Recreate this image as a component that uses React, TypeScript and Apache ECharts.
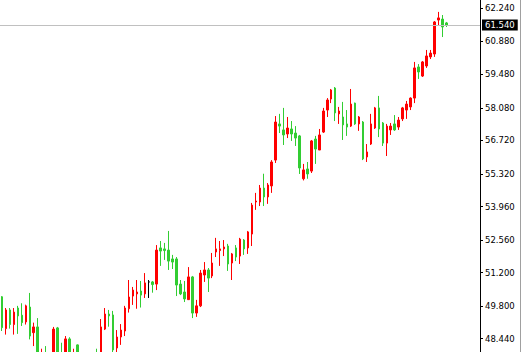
import React, { useEffect, useRef } from "react";
import * as echarts from "echarts";

// Candle OHLC values, oldest first (last candle is the current bar)
const opens = [
  50.19, 48.86, 49.64, 49.03, 49.72, 49.42, 49.14, 49.76, 48.69, 48.93,
  47.60, 47.85, 47.30, 47.60, 48.89, 47.70, 47.40, 48.43, 47.50, 48.18,
  47.50, 47.30, 47.50, 47.20, 47.70, 47.50, 48.84, 49.47, 49.43, 48.05,
  48.51, 48.76, 49.69, 50.22, 50.31, 50.43, 50.31, 50.81, 50.81, 50.72,
  52.23, 52.19, 52.14, 51.77, 51.77, 50.72, 50.39, 50.07, 51.02, 49.51,
  49.81, 51.10, 51.31, 51.06, 52.06, 52.12, 52.19, 52.31, 51.60, 52.23,
  51.89, 52.56, 52.23, 52.81, 54.15, 54.15, 54.73, 54.36, 54.82, 55.90,
  57.41, 57.16, 56.99, 57.20, 57.03, 56.91, 55.12, 55.53, 55.44, 56.78,
  56.32, 57.07, 57.99, 58.45, 58.91, 57.83, 57.70, 57.41, 57.32, 58.28,
  57.41, 57.49, 56.03, 56.57, 57.24, 58.08, 57.45, 56.61, 57.16, 57.41,
  57.28, 57.62, 57.99, 58.12, 58.49, 59.79, 59.41, 59.83, 60.21, 60.33,
  61.75, 61.79, 61.63,
];
const closes = [
  48.90, 49.64, 49.03, 49.55, 49.39, 49.11, 49.81, 48.55, 48.93, 47.60,
  47.85, 47.40, 47.60, 48.84, 47.70, 47.30, 48.43, 47.60, 47.80, 47.50,
  47.30, 47.50, 47.20, 47.60, 47.40, 48.93, 49.47, 49.39, 47.97, 48.51,
  48.80, 49.72, 50.18, 50.47, 50.39, 50.26, 50.77, 50.81, 50.70, 52.14,
  52.10, 52.12, 51.68, 51.64, 50.68, 50.31, 50.10, 51.02, 49.51, 49.81,
  51.18, 51.31, 50.97, 51.60, 52.19, 52.19, 52.27, 51.56, 51.98, 51.85,
  52.60, 52.19, 52.90, 54.02, 54.19, 54.73, 54.36, 54.86, 55.82, 57.49,
  57.32, 56.95, 57.24, 56.99, 56.82, 55.57, 55.49, 55.32, 56.70, 56.36,
  56.95, 57.95, 58.41, 58.83, 57.87, 57.95, 57.37, 57.28, 58.24, 57.41,
  57.70, 55.95, 56.24, 57.41, 58.08, 57.20, 56.61, 57.32, 57.32, 57.16,
  57.57, 58.08, 58.24, 58.49, 59.75, 59.58, 60.00, 60.25, 60.37, 61.67,
  61.84, 61.46, 61.54,
];
const lows = [
  48.76, 48.61, 48.86, 48.61, 48.64, 48.97, 49.03, 48.41, 48.13, 47.40,
  47.40, 47.20, 47.10, 47.50, 47.50, 47.10, 47.20, 47.40, 47.30, 47.30,
  47.10, 47.00, 47.00, 47.00, 47.20, 47.30, 48.80, 48.94, 47.80, 47.85,
  48.18, 48.55, 49.53, 49.85, 49.69, 49.74, 50.14, 50.14, 50.36, 50.47,
  51.48, 51.73, 51.31, 51.35, 50.22, 50.26, 49.97, 50.06, 49.30, 49.35,
  49.76, 50.81, 50.39, 50.97, 51.85, 51.48, 51.89, 51.27, 50.89, 51.68,
  51.56, 51.94, 51.98, 52.31, 53.82, 53.98, 53.98, 54.07, 54.53, 55.78,
  57.03, 56.53, 56.82, 56.70, 56.49, 55.32, 55.05, 55.12, 55.36, 55.74,
  56.32, 57.03, 57.70, 58.28, 57.53, 57.41, 56.74, 56.91, 57.28, 57.37,
  57.12, 55.90, 55.82, 56.53, 57.20, 56.86, 56.49, 56.07, 56.95, 57.12,
  57.16, 57.53, 57.62, 57.99, 58.28, 59.29, 59.37, 59.75, 60.12, 60.21,
  61.50, 61.04, 61.46,
];
const highs = [
  50.22, 49.72, 49.72, 49.72, 49.81, 49.92, 49.86, 50.35, 49.11, 49.30,
  48.02, 48.13, 47.75, 48.93, 48.93, 48.27, 48.55, 48.50, 48.02, 48.20,
  47.70, 47.70, 47.60, 47.75, 48.02, 49.26, 49.72, 49.64, 49.60, 48.80,
  49.05, 49.81, 50.89, 50.60, 50.89, 50.85, 51.18, 50.89, 50.85, 52.35,
  52.52, 52.44, 52.94, 51.94, 51.85, 50.89, 50.85, 51.43, 51.06, 50.06,
  51.31, 51.64, 51.39, 52.02, 52.65, 52.52, 52.56, 52.40, 52.02, 52.35,
  52.65, 52.60, 52.94, 54.11, 54.53, 54.86, 55.33, 54.94, 55.90, 57.74,
  57.83, 58.08, 57.70, 57.53, 57.32, 56.95, 55.74, 55.82, 56.74, 56.91,
  57.20, 58.08, 58.49, 58.87, 58.95, 58.12, 58.33, 57.99, 58.87, 58.30,
  57.74, 57.53, 56.57, 57.83, 58.12, 58.58, 57.49, 57.41, 57.45, 57.78,
  57.70, 58.12, 58.37, 58.52, 60.00, 59.91, 60.04, 60.50, 60.50, 61.71,
  62.09, 61.96, 61.67,
];

// Bar slots (including empty space at the right of the chart)
const slotCount = 121;
const categories = Array.from({ length: slotCount }, (_, i) => String(i + 1));

// Price scale tick labels
const tickValues = [62.24, 60.88, 59.48, 58.08, 56.72, 55.32, 53.96, 52.56, 51.2, 49.8, 48.44];
const yMin = 47.883;
const yMax = 62.587;
const currentPrice = 61.54;

const FONT = "DejaVu Sans";

export default function App() {
  const ref = useRef<HTMLDivElement>(null);

  useEffect(() => {
    if (!ref.current) return;
    const chart = echarts.init(ref.current, undefined, { renderer: "svg" });
    const data = opens.map((o, i) => [o, closes[i], lows[i], highs[i]]);
    chart.setOption({
      animation: false,
      backgroundColor: "#ffffff",
      grid: { left: -3, right: 43, top: 0, bottom: 0, containLabel: false },
      xAxis: {
        type: "category",
        data: categories,
        boundaryGap: true,
        axisLine: { show: false },
        axisTick: { show: false },
        axisLabel: { show: false },
        splitLine: { show: false },
      },
      yAxis: {
        type: "value",
        position: "right",
        min: yMin,
        max: yMax,
        splitLine: { show: false },
        axisLine: { show: true, onZero: false, lineStyle: { color: "#000000", width: 1 } },
        axisTick: {
          show: true,
          length: 3,
          lineStyle: { color: "#000000", width: 1 },
          customValues: tickValues,
        },
        axisLabel: {
          show: true,
          customValues: tickValues,
          formatter: (v: number) => v.toFixed(3),
          color: "#000000",
          fontSize: 8.5,
          fontFamily: FONT,
          margin: 5,
        },
      },
      series: [
        {
          type: "candlestick",
          data,
          barWidth: 2,
          clip: true,
          itemStyle: {
            color: "#ff0000",
            color0: "#32cd32",
            borderColor: "#ff0000",
            borderColor0: "#32cd32",
            borderColorDoji: "#000000",
            borderWidth: 1,
          },
          markLine: {
            silent: true,
            symbol: ["none", "none"],
            animation: false,
            lineStyle: { color: "#c0c0c0", type: "solid", width: 1 },
            label: {
              show: true,
              position: "end",
              formatter: currentPrice.toFixed(3),
              backgroundColor: "#000000",
              color: "#ffffff",
              fontSize: 8.5,
              fontFamily: FONT,
              padding: [1, 3, 1, 3],
              distance: 2,
            },
            data: [{ yAxis: currentPrice }],
          },
        },
      ],
      graphic: [
        {
          type: "rect",
          shape: { x: 480, y: 0, width: 1, height: 352 },
          style: { fill: "#000000" },
        },
        {
          type: "rect",
          shape: { x: 520, y: 0, width: 1, height: 352 },
          style: { fill: "#a0a0a0" },
        },
      ],
    });
    return () => chart.dispose();
  }, []);

  return (
    <div
      ref={ref}
      style={{ position: "fixed", left: 0, top: 0, width: 523, height: 352 }}
    />
  );
}
